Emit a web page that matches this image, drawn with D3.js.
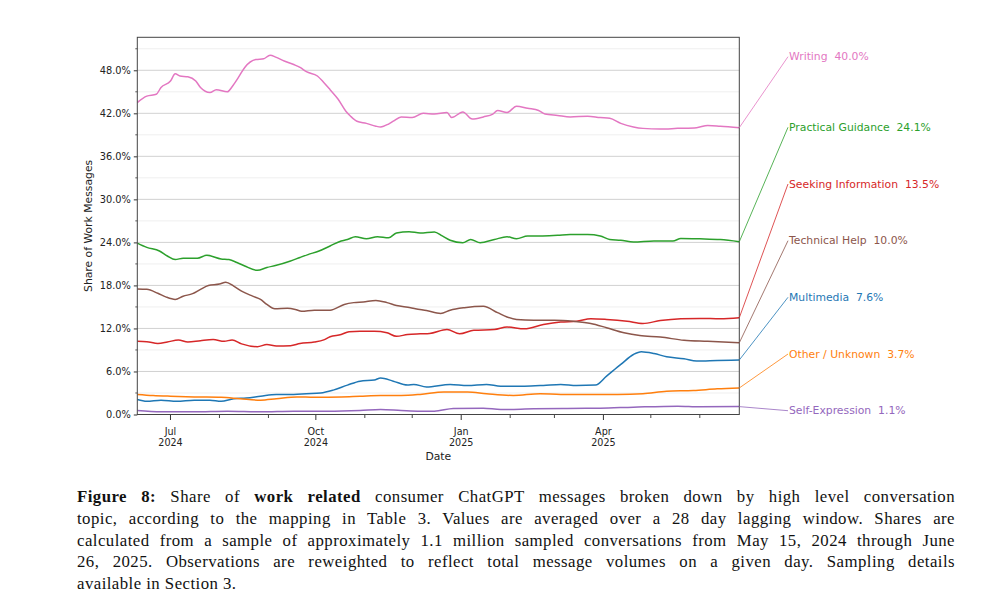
<!DOCTYPE html>
<html>
<head>
<meta charset="utf-8">
<script src="https://cdn.jsdelivr.net/npm/d3@7"></script>
<style>
  html, body { margin: 0; padding: 0; background: #fff; }
  body { width: 988px; height: 614px; overflow: hidden; position: relative; }
  svg { position: absolute; left: 0; top: 0; }
  #caption { position: absolute; left: 77px; top: 486px; width: 878px;
    font-family: "Liberation Serif", "Times New Roman", serif; font-size: 16.8px;
    letter-spacing: 0.45px; line-height: 21.8px; color: #111; }
  #caption .ln { text-align: justify; text-align-last: justify; }
  #caption .last { text-align: left; text-align-last: left; }
</style>
</head>
<body>
<svg id="chart" width="988" height="480"></svg>
<div id="caption"></div>
<script>
// ---------------- DATA ----------------
const startDate = "2024-06-10";   // first day of the plotted window
const endDate = "2025-06-26";     // last day of the plotted window

const categories = ["Writing", "Practical Guidance", "Seeking Information", "Technical Help",
                    "Multimedia", "Other / Unknown", "Self-Expression"];
const finalShares = [40.0, 24.1, 13.5, 10.0, 7.6, 3.7, 1.1];

// [days since startDate, share %]
const writing = [[0,43.5],[6,44.4],[12,44.65],[15,45.6],[21,46.5],[24,47.5],[27,47.2],[32,47.1],[37,46.5],[40,45.6],[46,44.9],[50,45.3],[57,45.0],[60,45.7],[64,47.0],[68,48.4],[75,49.5],[80,49.6],[84,50.1],[88,49.8],[93,49.3],[99,48.8],[103,48.4],[107,47.8],[114,47.2],[118,46.3],[122,45.3],[127,44.0],[132,42.3],[135,41.6],[139,40.9],[145,40.6],[151,40.2],[154,40.1],[159,40.5],[162,40.9],[167,41.5],[174,41.4],[181,42.0],[188,41.9],[196,42.1],[199,41.4],[206,42.2],[212,41.2],[219,41.5],[225,41.9],[228,42.4],[234,42.1],[240,43.0],[247,42.7],[254,42.4],[258,41.9],[266,41.7],[274,41.5],[285,41.6],[293,41.4],[299,41.3],[306,40.6],[314,40.1],[320,39.9],[331,39.8],[342,39.9],[354,40.0],[361,40.3],[369,40.2],[381,40.0]];
const practicalGuidance = [[0,23.9],[6,23.3],[14,22.8],[19,22.1],[24,21.6],[29,21.8],[38,21.8],[44,22.2],[53,21.7],[58,21.6],[63,21.2],[68,20.7],[76,20.1],[82,20.5],[88,20.8],[97,21.4],[103,21.9],[108,22.3],[115,22.8],[122,23.5],[129,24.2],[133,24.4],[138,24.8],[145,24.5],[152,24.8],[159,24.65],[164,25.3],[172,25.5],[179,25.3],[188,25.45],[193,24.9],[198,24.3],[206,23.95],[211,24.4],[217,23.95],[226,24.4],[234,24.8],[240,24.5],[247,24.9],[255,24.9],[266,25.0],[274,25.1],[285,25.1],[293,24.9],[299,24.4],[306,24.3],[314,24.05],[327,24.2],[339,24.2],[344,24.55],[356,24.5],[369,24.4],[381,24.1]];
const seekingInformation = [[0,10.2],[6,10.15],[13,9.9],[19,10.1],[26,10.4],[32,10.1],[40,10.3],[48,10.45],[55,10.2],[60,10.4],[66,9.85],[76,9.45],[82,9.75],[88,9.55],[97,9.6],[103,9.9],[112,10.1],[118,10.4],[122,10.85],[129,11.15],[134,11.55],[141,11.6],[150,11.6],[158,11.4],[164,10.9],[171,11.15],[179,11.25],[185,11.3],[196,11.85],[204,11.25],[213,11.75],[226,11.85],[234,12.2],[245,11.95],[257,12.55],[268,12.9],[278,13.0],[287,13.35],[297,13.25],[310,13.0],[320,12.7],[331,13.1],[344,13.35],[356,13.4],[369,13.35],[381,13.5]];
const technicalHelp = [[0,17.5],[6,17.45],[13,16.9],[18,16.4],[24,16.05],[29,16.5],[35,16.85],[40,17.45],[45,18.0],[52,18.2],[56,18.45],[61,17.9],[66,17.2],[73,16.5],[78,16.05],[82,15.35],[87,14.75],[95,14.8],[100,14.65],[104,14.4],[112,14.55],[122,14.55],[131,15.35],[137,15.6],[143,15.7],[151,15.9],[158,15.6],[164,15.2],[173,14.9],[176,14.75],[183,14.5],[192,14.1],[198,14.55],[207,14.9],[219,15.1],[228,14.2],[234,13.6],[240,13.25],[251,13.15],[264,13.15],[276,13.0],[287,12.7],[297,12.1],[308,11.4],[318,11.0],[331,10.8],[346,10.35],[361,10.2],[381,10.0]];
const multimedia = [[0,2.1],[6,1.85],[15,2.0],[25,1.85],[36,2.0],[46,2.0],[53,1.85],[61,2.2],[69,2.3],[78,2.55],[88,2.8],[99,2.8],[107,2.9],[116,3.0],[124,3.4],[133,4.1],[141,4.65],[150,4.8],[154,5.1],[162,4.65],[171,4.1],[175,4.2],[183,3.85],[198,4.2],[209,4.05],[221,4.2],[230,3.95],[245,3.95],[257,4.05],[268,4.2],[278,4.05],[290,4.1],[297,5.35],[306,6.98],[314,8.37],[319,8.75],[327,8.5],[335,8.05],[346,7.77],[354,7.45],[367,7.53],[381,7.6]];
const otherUnknown = [[0,2.8],[10,2.65],[21,2.55],[36,2.45],[53,2.4],[65,2.2],[78,2.0],[88,2.2],[101,2.45],[112,2.4],[129,2.45],[141,2.55],[154,2.65],[167,2.65],[179,2.8],[194,3.15],[209,3.15],[221,2.9],[238,2.65],[255,2.9],[268,2.8],[285,2.8],[304,2.8],[320,2.9],[335,3.25],[352,3.35],[367,3.58],[381,3.7]];
const selfExpression = [[0,0.56],[15,0.37],[36,0.37],[57,0.46],[78,0.37],[99,0.46],[120,0.46],[141,0.56],[154,0.7],[167,0.56],[179,0.46],[188,0.46],[200,0.84],[219,0.88],[230,0.7],[251,0.79],[272,0.84],[293,0.88],[314,1.02],[342,1.16],[356,1.07],[381,1.1]];

const seriesValues = [writing, practicalGuidance, seekingInformation, technicalHelp,
                      multimedia, otherUnknown, selfExpression];

const yTickValues = [0, 6, 12, 18, 24, 30, 36, 42, 48];
const yMinorValues = [3, 9, 15, 21, 27, 33, 39, 45, 51];
const xTickDates = ["2024-07-01", "2024-10-01", "2025-01-01", "2025-04-01"];
const xTickLabels = [["Jul", "2024"], ["Oct", "2024"], ["Jan", "2025"], ["Apr", "2025"]];

const captionLines = [
  "<b>Figure 8:</b> Share of <b>work related</b> consumer ChatGPT messages broken down by high level conversation",
  "topic, according to the mapping in Table 3. Values are averaged over a 28 day lagging window. Shares are",
  "calculated from a sample of approximately 1.1 million sampled conversations from May 15, 2024 through June",
  "26, 2025. Observations are reweighted to reflect total message volumes on a given day. Sampling details",
  "available in Section 3."
];

// ---------------- STYLE / LAYOUT ----------------
const colors = ["#e377c2", "#2ca02c", "#d62728", "#8c564b", "#1f77b4", "#ff7f0e", "#9467bd"];
const plot = { left: 137.3, right: 739.3, top: 37.3, bottom: 414.5 };
const labelX = 789;
const labelSlots = [56.7, 127.3, 184, 240.7, 297.3, 354, 410.7];
const font = "DejaVu Sans, sans-serif";

const parse = d3.utcParse("%Y-%m-%d");
const t0 = parse(startDate);

const x = d3.scaleUtc().domain([t0, parse(endDate)]).range([plot.left, plot.right]);
const y = d3.scaleLinear().domain([0, 52.6]).range([plot.bottom, plot.top]);

const svg = d3.select("#chart");

// grid
const g = svg.append("g");
g.selectAll("line.minor").data(yMinorValues).join("line")
  .attr("x1", plot.left).attr("x2", plot.right)
  .attr("y1", d => y(d)).attr("y2", d => y(d))
  .attr("stroke", "#ebebeb").attr("stroke-width", 0.8);
g.selectAll("line.major").data(yTickValues).join("line")
  .attr("x1", plot.left).attr("x2", plot.right)
  .attr("y1", d => y(d)).attr("y2", d => y(d))
  .attr("stroke", "#cccccc").attr("stroke-width", 0.9);

// clip
svg.append("clipPath").attr("id", "clip").append("rect")
  .attr("x", plot.left).attr("y", plot.top)
  .attr("width", plot.right - plot.left).attr("height", plot.bottom - plot.top);

const line = d3.line()
  .x(d => x(d3.utcDay.offset(t0, d[0])))
  .y(d => y(d[1]))
  .curve(d3.curveMonotoneX);

const lines = svg.append("g").attr("clip-path", "url(#clip)");
seriesValues.forEach((s, i) => {
  lines.append("path").datum(s)
    .attr("d", line).attr("fill", "none")
    .attr("stroke", colors[i]).attr("stroke-width", 1.5)
    .attr("stroke-linejoin", "round");
});

// Y axis
const yAxis = d3.axisLeft(y).tickValues(yTickValues).tickSize(3.5).tickPadding(3)
  .tickFormat(d => d3.format(".1f")(d) + "%");
const ya = svg.append("g").attr("transform", `translate(${plot.left},0)`).call(yAxis);
ya.select(".domain").remove();
ya.selectAll("text").attr("font-family", font).attr("font-size", 9.8).attr("fill", "#222");
ya.selectAll("line").attr("stroke", "#333");
svg.append("g").selectAll("line").data(yMinorValues).join("line")
  .attr("x1", plot.left - 2).attr("x2", plot.left)
  .attr("y1", d => y(d)).attr("y2", d => y(d)).attr("stroke", "#333").attr("stroke-width", 0.8);

// X axis
const xMajor = xTickDates.map(parse);
const xMinor = d3.utcMonth.range(t0, parse(endDate)).filter(d => !xMajor.some(m => +m === +d));
svg.append("g").selectAll("line").data(xMinor).join("line")
  .attr("x1", d => x(d)).attr("x2", d => x(d))
  .attr("y1", plot.bottom).attr("y2", plot.bottom + 3.5)
  .attr("stroke", "#333").attr("stroke-width", 0.9);
const xt = svg.append("g").selectAll("g").data(xMajor).join("g")
  .attr("transform", d => `translate(${x(d)},${plot.bottom})`);
xt.append("line").attr("y2", 5.5).attr("stroke", "#333").attr("stroke-width", 1);
xt.each(function(d, i) {
  const sel = d3.select(this);
  sel.append("text").attr("text-anchor", "middle").attr("y", 20.5)
    .attr("font-family", font).attr("font-size", 9.6).attr("fill", "#222")
    .text(xTickLabels[i][0]);
  sel.append("text").attr("text-anchor", "middle").attr("y", 31.3)
    .attr("font-family", font).attr("font-size", 9.6).attr("fill", "#222")
    .text(xTickLabels[i][1]);
});

// frame
svg.append("rect").attr("x", plot.left).attr("y", plot.top)
  .attr("width", plot.right - plot.left).attr("height", plot.bottom - plot.top)
  .attr("fill", "none").attr("stroke", "#444").attr("stroke-width", 1);

// axis titles
svg.append("text").attr("x", (plot.left + plot.right) / 2).attr("y", 460)
  .attr("text-anchor", "middle").attr("font-family", font).attr("font-size", 10.8)
  .attr("fill", "#222").text("Date");
svg.append("text")
  .attr("transform", `translate(92,${(plot.top + plot.bottom) / 2}) rotate(-90)`)
  .attr("text-anchor", "middle").attr("font-family", font).attr("font-size", 10.8)
  .attr("fill", "#222").text("Share of Work Messages");

// end labels with connectors
seriesValues.forEach((s, i) => {
  const last = s[s.length - 1];
  const ly = labelSlots[i];
  svg.append("line")
    .attr("x1", plot.right).attr("y1", y(last[1]))
    .attr("x2", labelX - 1).attr("y2", ly)
    .attr("stroke", colors[i]).attr("stroke-width", 0.8);
  svg.append("text").attr("x", labelX).attr("y", ly).attr("dy", "0.35em")
    .attr("font-family", font).attr("font-size", 10.8).attr("fill", colors[i])
    .attr("xml:space", "preserve").style("white-space", "pre")
    .text(categories[i] + "  " + d3.format(".1f")(finalShares[i]) + "%");
});

// caption
d3.select("#caption").selectAll("div").data(captionLines).join("div")
  .attr("class", (d, i) => i === captionLines.length - 1 ? "ln last" : "ln")
  .html(d => d);
</script>
</body>
</html>
